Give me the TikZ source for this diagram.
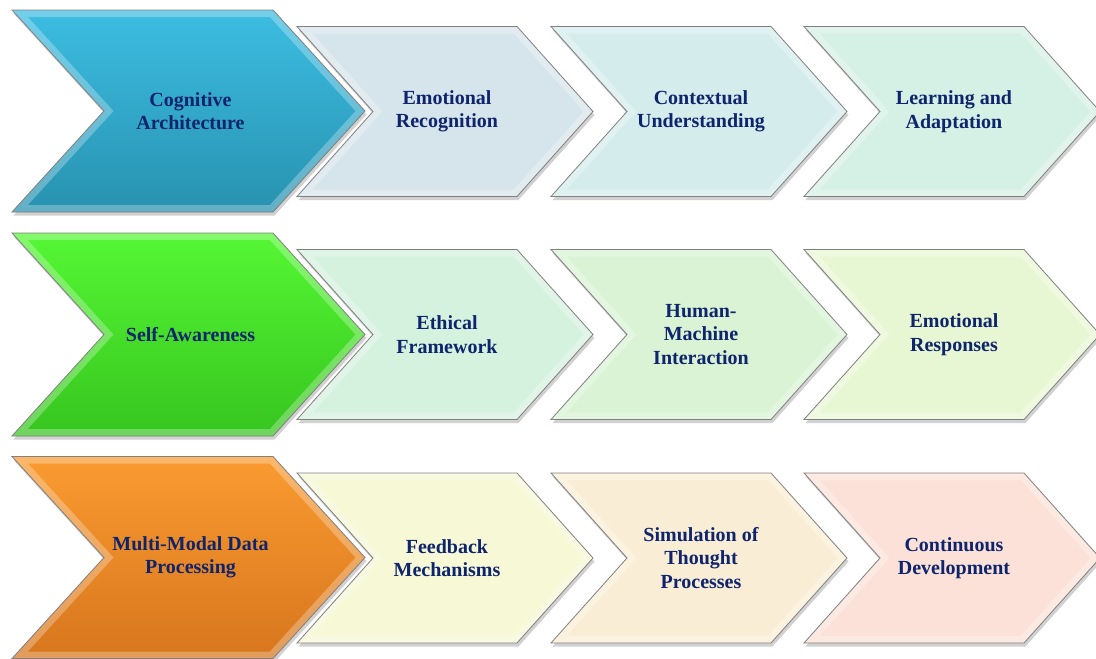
\documentclass[tikz,border=0pt]{standalone}
\usepackage{fontspec}
\setmainfont{Liberation Serif}
\usepackage{tikz}
\usetikzlibrary{calc}

\definecolor{navytext}{RGB}{14,36,108}
\definecolor{cogtop}{HTML}{3CBDE2}
\definecolor{cogbot}{HTML}{2892B0}
\definecolor{selftop}{HTML}{55F734}
\definecolor{selfbot}{HTML}{37C51F}
\definecolor{mmdtop}{HTML}{FA9B31}
\definecolor{mmdbot}{HTML}{D7761D}
\definecolor{emofill}{HTML}{D6E4EB}
\definecolor{ctxfill}{HTML}{D4ECEC}
\definecolor{learnfill}{HTML}{D5F0E5}
\definecolor{ethicfill}{HTML}{D5F2DE}
\definecolor{hmifill}{HTML}{D9F3D4}
\definecolor{respfill}{HTML}{E8F7D3}
\definecolor{feedfill}{HTML}{F6F8D6}
\definecolor{simfill}{HTML}{FAEDD5}
\definecolor{contfill}{HTML}{FCE1D8}

\tikzset{
  chevshadow/.style={fill=black!18},
  chevedge/.style={draw=black!50, line width=.8pt, line join=miter},
  chevbevel/.style={draw=white, draw opacity=.28, line width=14pt, line join=miter},
  chevlabel/.style={align=center, text=navytext, inner sep=0pt,
    font=\fontsize{20}{23.5}\selectfont\bfseries},
}

% #1 name, #2 left x, #3 top right x, #4 slant, #5 centre y, #6 half height,
% #7 top colour, #8 bottom colour, #9 text
\newcommand{\chev}[9]{%
  \def\chevpath{(#2,#5-#6) -- (#3,#5-#6) -- (#3+#4,#5) -- (#3,#5+#6) -- (#2,#5+#6) -- (#2+#4,#5) -- cycle}%
  \fill[chevshadow, shift={(1.5,3.5)}] \chevpath;
  \shade[top color=#7, bottom color=#8] \chevpath;
  \begin{scope}
    \clip \chevpath;
    \draw[chevbevel] \chevpath;
  \end{scope}
  \draw[chevedge] \chevpath;
  \node[chevlabel] (#1) at ({(#2+#3+#4)/2+2},#5) {#9};
}

\begin{document}
\begin{tikzpicture}[x=1pt, y=-1pt]
    \useasboundingbox (0,0) rectangle (1096,659);

    % row 1
    \chev{cog}{12}{273}{92}{111}{101}{cogtop}{cogbot}{Cognitive\\Architecture}
    \chev{emo}{297}{517}{76}{111.5}{85}{emofill}{emofill}{Emotional\\Recognition}
    \chev{ctx}{551}{771}{76}{111.5}{85}{ctxfill}{ctxfill}{Contextual\\Understanding}
    \chev{learn}{804}{1024}{76}{111.5}{85}{learnfill}{learnfill}{Learning and\\Adaptation}

    % row 2
    \chev{self}{12}{273}{92}{334.5}{101.5}{selftop}{selfbot}{Self-Awareness}
    \chev{ethic}{297}{517}{76}{334.5}{85}{ethicfill}{ethicfill}{Ethical\\Framework}
    \chev{hmi}{551}{771}{76}{334.5}{85}{hmifill}{hmifill}{Human-\\Machine\\Interaction}
    \chev{resp}{804}{1024}{76}{334.5}{85}{respfill}{respfill}{Emotional\\Responses}

    % row 3
    \chev{mmd}{12}{273}{92}{557.5}{101}{mmdtop}{mmdbot}{Multi-Modal Data\\Processing}
    \chev{feed}{297}{517}{76}{558}{85}{feedfill}{feedfill}{Feedback\\Mechanisms}
    \chev{sim}{551}{771}{76}{558}{85}{simfill}{simfill}{Simulation of\\Thought\\Processes}
    \chev{cont}{804}{1024}{76}{558}{85}{contfill}{contfill}{Continuous\\Development}
\end{tikzpicture}
\end{document}
